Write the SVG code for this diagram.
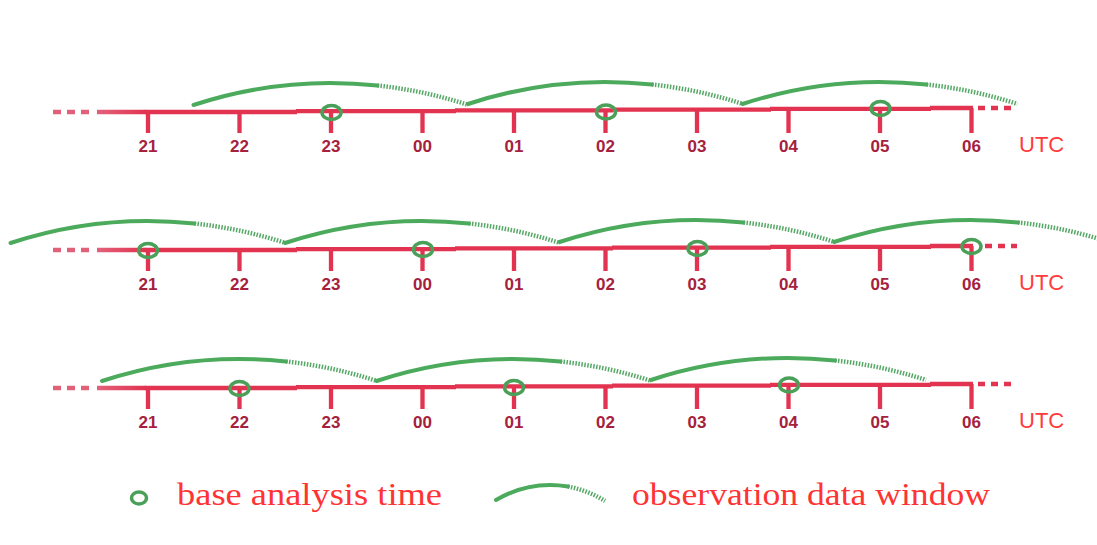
<svg xmlns="http://www.w3.org/2000/svg" width="1097" height="545" viewBox="0 0 1097 545">
<defs>
<linearGradient id="fade" gradientUnits="userSpaceOnUse" x1="97" y1="0" x2="146" y2="0">
<stop offset="0" stop-color="#e2617a"/><stop offset="1" stop-color="#e23350"/>
</linearGradient>
<style>
.ln{fill:none;stroke:#e23350;stroke-width:4.3}
.lt{fill:none;stroke:url(#fade);stroke-width:4.3}
.dl{fill:none;stroke:#e2617a;stroke-width:4.3;stroke-dasharray:8 6}
.dr{fill:none;stroke:#e23350;stroke-width:4.3;stroke-dasharray:7 6}
.tk{fill:none;stroke:#e23350;stroke-width:4.3}
.lb{font-family:"Liberation Sans",Arial,sans-serif;font-weight:bold;font-size:17px;fill:#a5213d;text-anchor:middle}
.utc{font-family:"Liberation Sans",Arial,sans-serif;font-size:22px;fill:#ff3b3b}
.ws{fill:none;stroke:#4caa5c;stroke-width:4;stroke-linecap:round}
.wd{fill:none;stroke:#55a865;stroke-width:4.5;stroke-dasharray:1.5 1.5}
.at{fill:none;stroke:#4aa058;stroke-width:3.5}
.lg{font-family:"Liberation Serif","Times New Roman",serif;font-size:32px;fill:#ff3333}
</style>
</defs>
<rect width="1097" height="545" fill="#ffffff"/>

<g id="row1">
<path class="dl" d="M53 112H92"/>
<path class="lt" d="M97 112H146"/>
<path class="ln" d="M145 112H297M296 111.2H456M455 110.4H613M612 109.6H771M770 108.8H931M930 108H973"/>
<path class="dr" d="M978 108H1017"/>
<path class="tk" d="M148 112V133M239.5 112V133M331 111V133M422.5 111V133M514 110V133M605.5 110V133M697 109.5V133M788.5 109V133M880 108.5V133M971.5 108V133"/>
<g>
<text class="lb" x="148" y="152">21</text><text class="lb" x="239.5" y="152">22</text><text class="lb" x="331" y="152">23</text><text class="lb" x="422.5" y="152">00</text><text class="lb" x="514" y="152">01</text><text class="lb" x="605.5" y="152">02</text><text class="lb" x="697" y="152">03</text><text class="lb" x="788.5" y="152">04</text><text class="lb" x="880" y="152">05</text><text class="lb" x="971.5" y="152">06</text>
</g>
<text class="utc" x="1019" y="152">UTC</text>
</g>

<g id="row2" transform="translate(0,138)">
<path class="dl" d="M53 112H92"/>
<path class="lt" d="M97 112H146"/>
<path class="ln" d="M145 112H297M296 111.2H456M455 110.4H613M612 109.6H771M770 108.8H931M930 108H973"/>
<path class="dr" d="M985 108H1017"/>
<path class="tk" d="M148 112V133M239.5 112V133M331 111V133M422.5 111V133M514 110V133M605.5 110V133M697 109.5V133M788.5 109V133M880 108.5V133M971.5 108V133"/>
<g>
<text class="lb" x="148" y="152">21</text><text class="lb" x="239.5" y="152">22</text><text class="lb" x="331" y="152">23</text><text class="lb" x="422.5" y="152">00</text><text class="lb" x="514" y="152">01</text><text class="lb" x="605.5" y="152">02</text><text class="lb" x="697" y="152">03</text><text class="lb" x="788.5" y="152">04</text><text class="lb" x="880" y="152">05</text><text class="lb" x="971.5" y="152">06</text>
</g>
<text class="utc" x="1019" y="152">UTC</text>
</g>

<g id="row3" transform="translate(0,276)">
<path class="dl" d="M53 112H92"/>
<path class="lt" d="M97 112H146"/>
<path class="ln" d="M145 112H297M296 111.2H456M455 110.4H613M612 109.6H771M770 108.8H931M930 108H973"/>
<path class="dr" d="M978 108H1017"/>
<path class="tk" d="M148 112V133M239.5 112V133M331 111V133M422.5 111V133M514 110V133M605.5 110V133M697 109.5V133M788.5 109V133M880 108.5V133M971.5 108V133"/>
<g>
<text class="lb" x="148" y="152">21</text><text class="lb" x="239.5" y="152">22</text><text class="lb" x="331" y="152">23</text><text class="lb" x="422.5" y="152">00</text><text class="lb" x="514" y="152">01</text><text class="lb" x="605.5" y="152">02</text><text class="lb" x="697" y="152">03</text><text class="lb" x="788.5" y="152">04</text><text class="lb" x="880" y="152">05</text><text class="lb" x="971.5" y="152">06</text>
</g>
<text class="utc" x="1019" y="152">UTC</text>
</g>

<g id="windows">
<path class="ws" d="M193.5 105A440.7 440.7 0 0 1 377.5 85.5"/>
<path class="wd" d="M377.5 85.5A440.7 440.7 0 0 1 468.5 105"/>
<path class="ws" d="M468 104A440.7 440.7 0 0 1 652 84.5"/>
<path class="wd" d="M652 84.5A440.7 440.7 0 0 1 743 104"/>
<path class="ws" d="M742.5 104A440.7 440.7 0 0 1 926.5 84.5"/>
<path class="wd" d="M926.5 84.5A440.7 440.7 0 0 1 1017.5 104"/>

<path class="ws" d="M10.5 243A440.7 440.7 0 0 1 194.5 223.5"/>
<path class="wd" d="M194.5 223.5A440.7 440.7 0 0 1 285.5 243"/>
<path class="ws" d="M285 243A440.7 440.7 0 0 1 469 223.5"/>
<path class="wd" d="M469 223.5A440.7 440.7 0 0 1 560 243"/>
<path class="ws" d="M559.5 242A440.7 440.7 0 0 1 743.5 222.5"/>
<path class="wd" d="M743.5 222.5A440.7 440.7 0 0 1 834.5 242"/>
<path class="ws" d="M834 242A440.7 440.7 0 0 1 1018 222.5"/>
<path class="wd" d="M1018 222.5A440.7 440.7 0 0 1 1109 242"/>

<path class="ws" d="M102 381A440.7 440.7 0 0 1 286 361.5"/>
<path class="wd" d="M286 361.5A440.7 440.7 0 0 1 377 381"/>
<path class="ws" d="M376.5 381A440.7 440.7 0 0 1 560.5 361.5"/>
<path class="wd" d="M560.5 361.5A440.7 440.7 0 0 1 651.5 381"/>
<path class="ws" d="M651 380A440.7 440.7 0 0 1 835 360.5"/>
<path class="wd" d="M835 360.5A440.7 440.7 0 0 1 926 380"/>
</g>

<g id="analysis-times">
<ellipse class="at" cx="331.5" cy="112.5" rx="9.5" ry="7"/>
<ellipse class="at" cx="606" cy="112" rx="9.5" ry="7"/>
<ellipse class="at" cx="880.5" cy="108.5" rx="9.5" ry="7"/>
<ellipse class="at" cx="148" cy="250.5" rx="9.5" ry="7"/>
<ellipse class="at" cx="423" cy="249.5" rx="9.5" ry="7"/>
<ellipse class="at" cx="697.5" cy="248.5" rx="9.5" ry="7"/>
<ellipse class="at" cx="971.5" cy="246.5" rx="9.5" ry="7"/>
<ellipse class="at" cx="239.5" cy="388.5" rx="9.5" ry="7"/>
<ellipse class="at" cx="514" cy="387.5" rx="9.5" ry="7"/>
<ellipse class="at" cx="789" cy="385" rx="9.5" ry="7"/>
</g>

<g id="legend">
<ellipse class="at" cx="139" cy="498" rx="7.5" ry="6"/>
<text class="lg" x="177" y="505" textLength="265" lengthAdjust="spacingAndGlyphs">base analysis time</text>
<path class="ws" d="M496 500A108.3 108.3 0 0 1 568 486.5"/>
<path class="wd" d="M568 486.5A108.3 108.3 0 0 1 605 501"/>
<text class="lg" x="632" y="505" textLength="358" lengthAdjust="spacingAndGlyphs">observation data window</text>
</g>
</svg>
